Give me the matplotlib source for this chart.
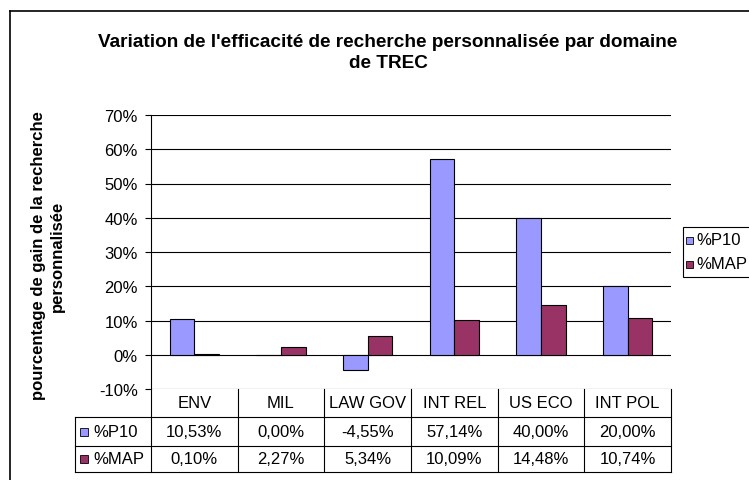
import matplotlib.pyplot as plt
from matplotlib.patches import Rectangle
from matplotlib.lines import Line2D
import numpy as np

plt.rcParams['font.family'] = ['Liberation Sans', 'DejaVu Sans']

categories = ["ENV", "MIL", "LAW GOV", "INT REL", "US ECO", "INT POL"]
p10 = [10.53, 0.00, -4.55, 57.14, 40.00, 20.00]
map_ = [0.10, 2.27, 5.34, 10.09, 14.48, 10.74]
series_names = ["%P10", "%MAP"]
colors = ["#9999FF", "#993366"]

W, H = 749, 481
fig = plt.figure(figsize=(W / 100, H / 100), dpi=100)


def fx(px):
    return px / W


def fy(py):
    return 1 - py / H


# plot area in pixels
L, R, T, B = 151, 671, 116, 390
ax = fig.add_axes([fx(L), fy(B), fx(R) - fx(L), fy(T) - fy(B)])

x = np.arange(len(categories))
bw = 1 / 3.5
ax.bar(x - bw / 2, p10, bw, color=colors[0], edgecolor="black", linewidth=0.8, zorder=3)
ax.bar(x + bw / 2, map_, bw, color=colors[1], edgecolor="black", linewidth=0.8, zorder=3)

ax.set_xlim(-0.5, len(categories) - 0.5)
ax.set_ylim(-10, 70)
yt = np.arange(-10, 71, 10)
ax.set_yticks(yt)
ax.set_yticklabels([f"{v}%" for v in yt], fontsize=12)
ax.yaxis.grid(True, color="black", linewidth=0.8, zorder=0)
ax.set_xticks([])
ax.tick_params(axis="y", direction="out", length=4, width=0.8, pad=5.5)
for s in ["top", "right", "bottom"]:
    ax.spines[s].set_visible(False)
ax.spines["left"].set_linewidth(0.8)

# data table under the plot
lw = 0.8
cw = (R - L) / len(categories)
rows = [390, 418, 447, 473]
lab_left = 75
for y in rows[1:]:
    fig.add_artist(Line2D([fx(lab_left), fx(R)], [fy(y), fy(y)], color="black", lw=lw))
fig.add_artist(Line2D([fx(lab_left), fx(lab_left)], [fy(rows[1]), fy(rows[3])], color="black", lw=lw))
for i in range(len(categories) + 1):
    xp = L + i * cw
    fig.add_artist(Line2D([fx(xp), fx(xp)], [fy(rows[0]), fy(rows[3])], color="black", lw=lw))
for i, c in enumerate(categories):
    cx = L + (i + 0.5) * cw
    fig.text(fx(cx), fy((rows[0] + rows[1]) / 2), c, ha="center", va="center", fontsize=12)
    for r, vals in enumerate([p10, map_]):
        s = f"{vals[i]:.2f}%".replace(".", ",")
        fig.text(fx(cx), fy((rows[r + 1] + rows[r + 2]) / 2), s, ha="center", va="center", fontsize=12)
for r, name in enumerate(series_names):
    yc = (rows[r + 1] + rows[r + 2]) / 2
    fig.add_artist(Rectangle((fx(80), fy(yc + 4)), fx(8), 8 / H, facecolor=colors[r],
                             edgecolor="black", lw=0.6))
    fig.text(fx(93), fy(yc), name, ha="left", va="center", fontsize=12)

# legend (box runs past the right edge)
fig.add_artist(Rectangle((fx(683), fy(278)), fx(80), 50 / H, facecolor="white",
                         edgecolor="black", lw=0.8))
for r, name in enumerate(series_names):
    yc = 241 + r * 24
    fig.add_artist(Rectangle((fx(686), fy(yc + 3.5)), fx(7), 7 / H, facecolor=colors[r],
                             edgecolor="black", lw=0.6))
    fig.text(fx(696), fy(yc), name, ha="left", va="center", fontsize=12)

# titles
fig.text(fx(388), fy(53), "Variation de l'efficacité de recherche personnalisée par domaine\nde TREC",
         ha="center", va="center", fontsize=13.7, fontweight="bold", linespacing=1.25)
fig.text(fx(48), fy(256), "pourcentage de gain de la recherche\npersonnalisée", ha="center", va="center",
         rotation=90, fontsize=12, fontweight="bold", linespacing=1.25)

# chart frame
fig.add_artist(Line2D([fx(10), fx(10)], [fy(12), 0], color="black", lw=1.2))
fig.add_artist(Line2D([fx(10), 1], [fy(12), fy(12)], color="black", lw=1.2))

fig.savefig("out.png", dpi=100)
